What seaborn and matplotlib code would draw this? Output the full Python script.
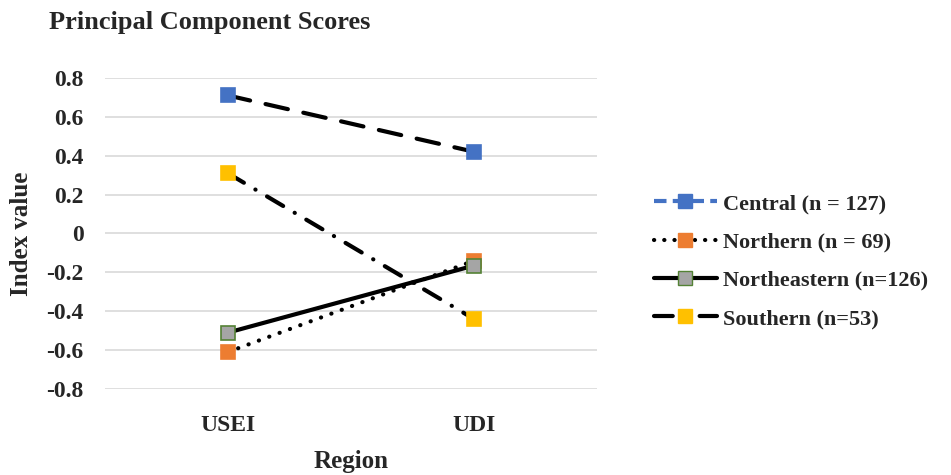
import matplotlib
matplotlib.use("Agg")
import matplotlib.pyplot as plt
from matplotlib.lines import Line2D
import seaborn as sns

# Data
categories = ["USEI", "UDI"]
central = [0.71, 0.42]
northern = [-0.61, -0.14]
northeastern = [-0.51, -0.165]
southern = [0.31, -0.44]
labels = ["Central (n = 127)", "Northern (n = 69)", "Northeastern (n=126)", "Southern (n=53)"]
y_ticks = [-0.8, -0.6, -0.4, -0.2, 0, 0.2, 0.4, 0.6, 0.8]

sns.set_theme(style="white")
plt.rcParams['font.family'] = ['Liberation Serif', 'DejaVu Serif']
plt.rcParams['font.weight'] = 'bold'

fig = plt.figure(figsize=(9.51, 4.75), dpi=100)
ax = fig.add_axes([0.110, 0.181, 0.518, 0.655])

series = [
    (central, (0, (5.5, 3.8)), "#4472C4", "#4472C4"),
    (northern, (0, (0.05, 2.6)), "#ED7D31", "#ED7D31"),
    (northeastern, "-", "#A5A5A5", "#548235"),
    (southern, (0, (4.5, 3.2, 0.05, 3.2)), "#FFC000", "#FFC000"),
]

for vals, ls, face, edge in series:
    sns.lineplot(x=categories, y=vals, ax=ax, color="black", linewidth=3,
                 linestyle=ls, dash_capstyle="round", sort=False, zorder=2)
    ax.plot(categories, vals, linestyle="none", marker="s", markersize=9.5,
            markerfacecolor=face, markeredgecolor=edge, markeredgewidth=1.2, zorder=3)

ax.set_xlim(-0.5, 1.5)
ax.set_ylim(-0.8, 0.8)
ax.set_yticks(y_ticks)
ax.set_yticklabels(["0" if t == 0 else f"{t:.1f}" for t in y_ticks])
ax.yaxis.grid(True, color="#D9D9D9", linewidth=1.2)
ax.xaxis.grid(False)
for s in ax.spines.values():
    s.set_visible(False)
ax.tick_params(axis="both", length=0, labelsize=17)
ax.tick_params(axis="y", pad=15)
ax.tick_params(axis="x", pad=19)
for lab in ax.get_xticklabels() + ax.get_yticklabels():
    lab.set_fontweight("bold")
ax.set_xlabel("Region", fontsize=18, fontweight="bold", labelpad=10)
ax.set_ylabel("Index value", fontsize=18, fontweight="bold", labelpad=10)

fig.text(0.052, 0.952, "Principal Component Scores", fontsize=19, fontweight="bold", va="center")

handles = [
    Line2D([], [], color="#4472C4", linewidth=3, linestyle=(0, (3, 1.5)),
           marker="s", markersize=9.5, markerfacecolor="#4472C4", markeredgecolor="#4472C4"),
    Line2D([], [], color="black", linewidth=3, linestyle=(0, (0.05, 2.4)), dash_capstyle="round",
           marker="s", markersize=9.5, markerfacecolor="#ED7D31", markeredgecolor="#ED7D31"),
    Line2D([], [], color="black", linewidth=3, linestyle="-",
           marker="s", markersize=9.5, markerfacecolor="#A5A5A5", markeredgecolor="#548235"),
    Line2D([], [], color="black", linewidth=3, linestyle=(0, (4.5, 3.2, 0.05, 3.2)), dash_capstyle="round",
           marker="s", markersize=9.5, markerfacecolor="#FFC000", markeredgecolor="#FFC000"),
]
fig.legend(handles, labels, loc="center left", bbox_to_anchor=(0.667, 0.45), frameon=False,
           prop={"size": 16, "weight": "bold"}, handlelength=2.8, handletextpad=0.3,
           labelspacing=0.8)

fig.savefig("out.png", dpi=100)
